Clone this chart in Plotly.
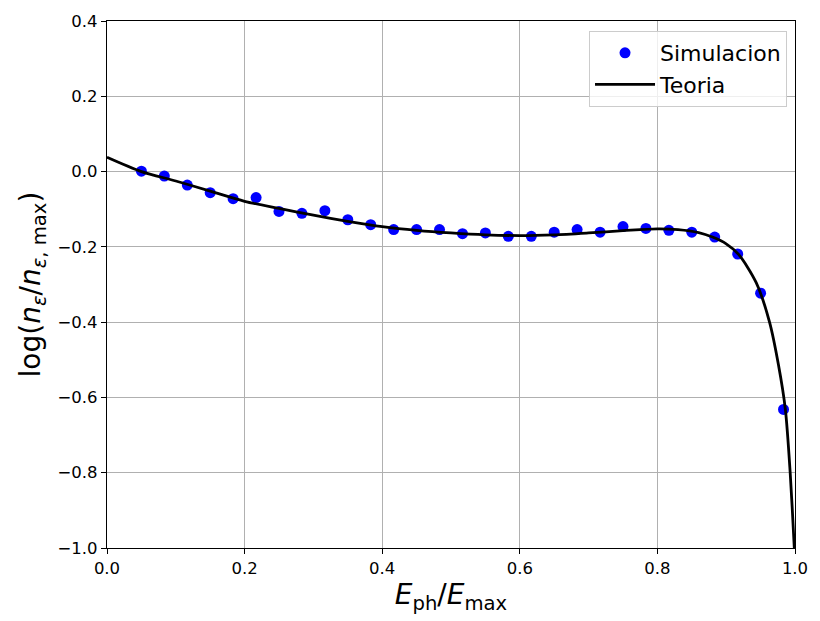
import plotly.graph_objects as go

# Simulation points
sim_x = [0.0500, 0.0833, 0.1167, 0.1500, 0.1833, 0.2167, 0.2500, 0.2833, 0.3167, 0.3500,
         0.3833, 0.4167, 0.4500, 0.4833, 0.5167, 0.5500, 0.5833, 0.6167, 0.6500, 0.6833,
         0.7167, 0.7500, 0.7833, 0.8167, 0.8500, 0.8833, 0.9167, 0.9500, 0.9833]
sim_y = [0.001, -0.012, -0.036, -0.056, -0.072, -0.069, -0.106, -0.111, -0.104, -0.128,
         -0.141, -0.154, -0.154, -0.154, -0.165, -0.163, -0.172, -0.172, -0.161, -0.154,
         -0.161, -0.146, -0.151, -0.156, -0.161, -0.174, -0.219, -0.323, -0.632]

# Theory curve
th_x = [0.0, 0.05, 0.1, 0.15, 0.2, 0.25, 0.3, 0.35, 0.4, 0.45, 0.5, 0.55, 0.6, 0.65,
        0.7, 0.75, 0.8, 0.83, 0.86, 0.88, 0.9, 0.918, 0.9436, 0.963, 0.976, 0.986,
        0.993, 0.999, 1.0]
th_y = [0.038, 0.0, -0.025, -0.052, -0.079, -0.098, -0.116, -0.132, -0.146, -0.156,
        -0.163, -0.168, -0.170, -0.168, -0.163, -0.157, -0.152, -0.154, -0.162, -0.174,
        -0.192, -0.22, -0.295, -0.40, -0.514, -0.632, -0.80, -1.0, -1.04]

x_ticks = [0.0, 0.2, 0.4, 0.6, 0.8, 1.0]
y_ticks = [0.4, 0.2, 0.0, -0.2, -0.4, -0.6, -0.8, -1.0]

font = "DejaVu Sans"

fig = go.Figure()
fig.add_trace(go.Scatter(
    x=sim_x, y=sim_y, mode="markers", name="Simulacion",
    marker=dict(color="#0000ff", size=11, line=dict(width=0)),
))
fig.add_trace(go.Scatter(
    x=th_x, y=th_y, mode="lines", name="Teoria",
    line=dict(color="black", width=2.8, shape="spline", smoothing=0.8),
))

axis_common = dict(
    showline=True, linecolor="black", linewidth=1.2, mirror=True,
    ticks="outside", ticklen=5, tickwidth=1, tickcolor="black",
    showgrid=True, gridcolor="#b0b0b0", gridwidth=1, zeroline=False,
    tickfont=dict(family=font, size=16.5, color="black"),
)

fig.update_xaxes(
    range=[0, 1], tickvals=x_ticks, ticktext=[f"{v:.1f}" for v in x_ticks],
    title=dict(text="<i>E</i><sub>ph</sub>/<i>E</i><sub>max</sub>",
               font=dict(family=font, size=28, color="black"), standoff=5),
    **axis_common,
)
fig.update_yaxes(
    range=[-1.0, 0.4], tickvals=y_ticks,
    ticktext=[f"{v:.1f}".replace("-", "\u2212") for v in y_ticks],
    title=dict(text="log(<i>n</i><sub><i>ε</i></sub>/<i>n</i><sub><i>ε</i>, max</sub>)",
               font=dict(family=font, size=28, color="black"), standoff=8),
    **axis_common,
)

fig.update_layout(
    width=820, height=621,
    margin=dict(l=107, r=21, t=16, b=73),
    paper_bgcolor="white", plot_bgcolor="white",
    font=dict(family=font, color="black"),
    legend=dict(
        x=0.9884, y=0.981, xanchor="right", yanchor="top",
        bgcolor="rgba(255,255,255,0.8)", bordercolor="#cccccc", borderwidth=1,
        font=dict(family=font, size=22, color="black"),
        itemwidth=60,
    ),
    showlegend=True,
)

fig.write_html("out.html")
